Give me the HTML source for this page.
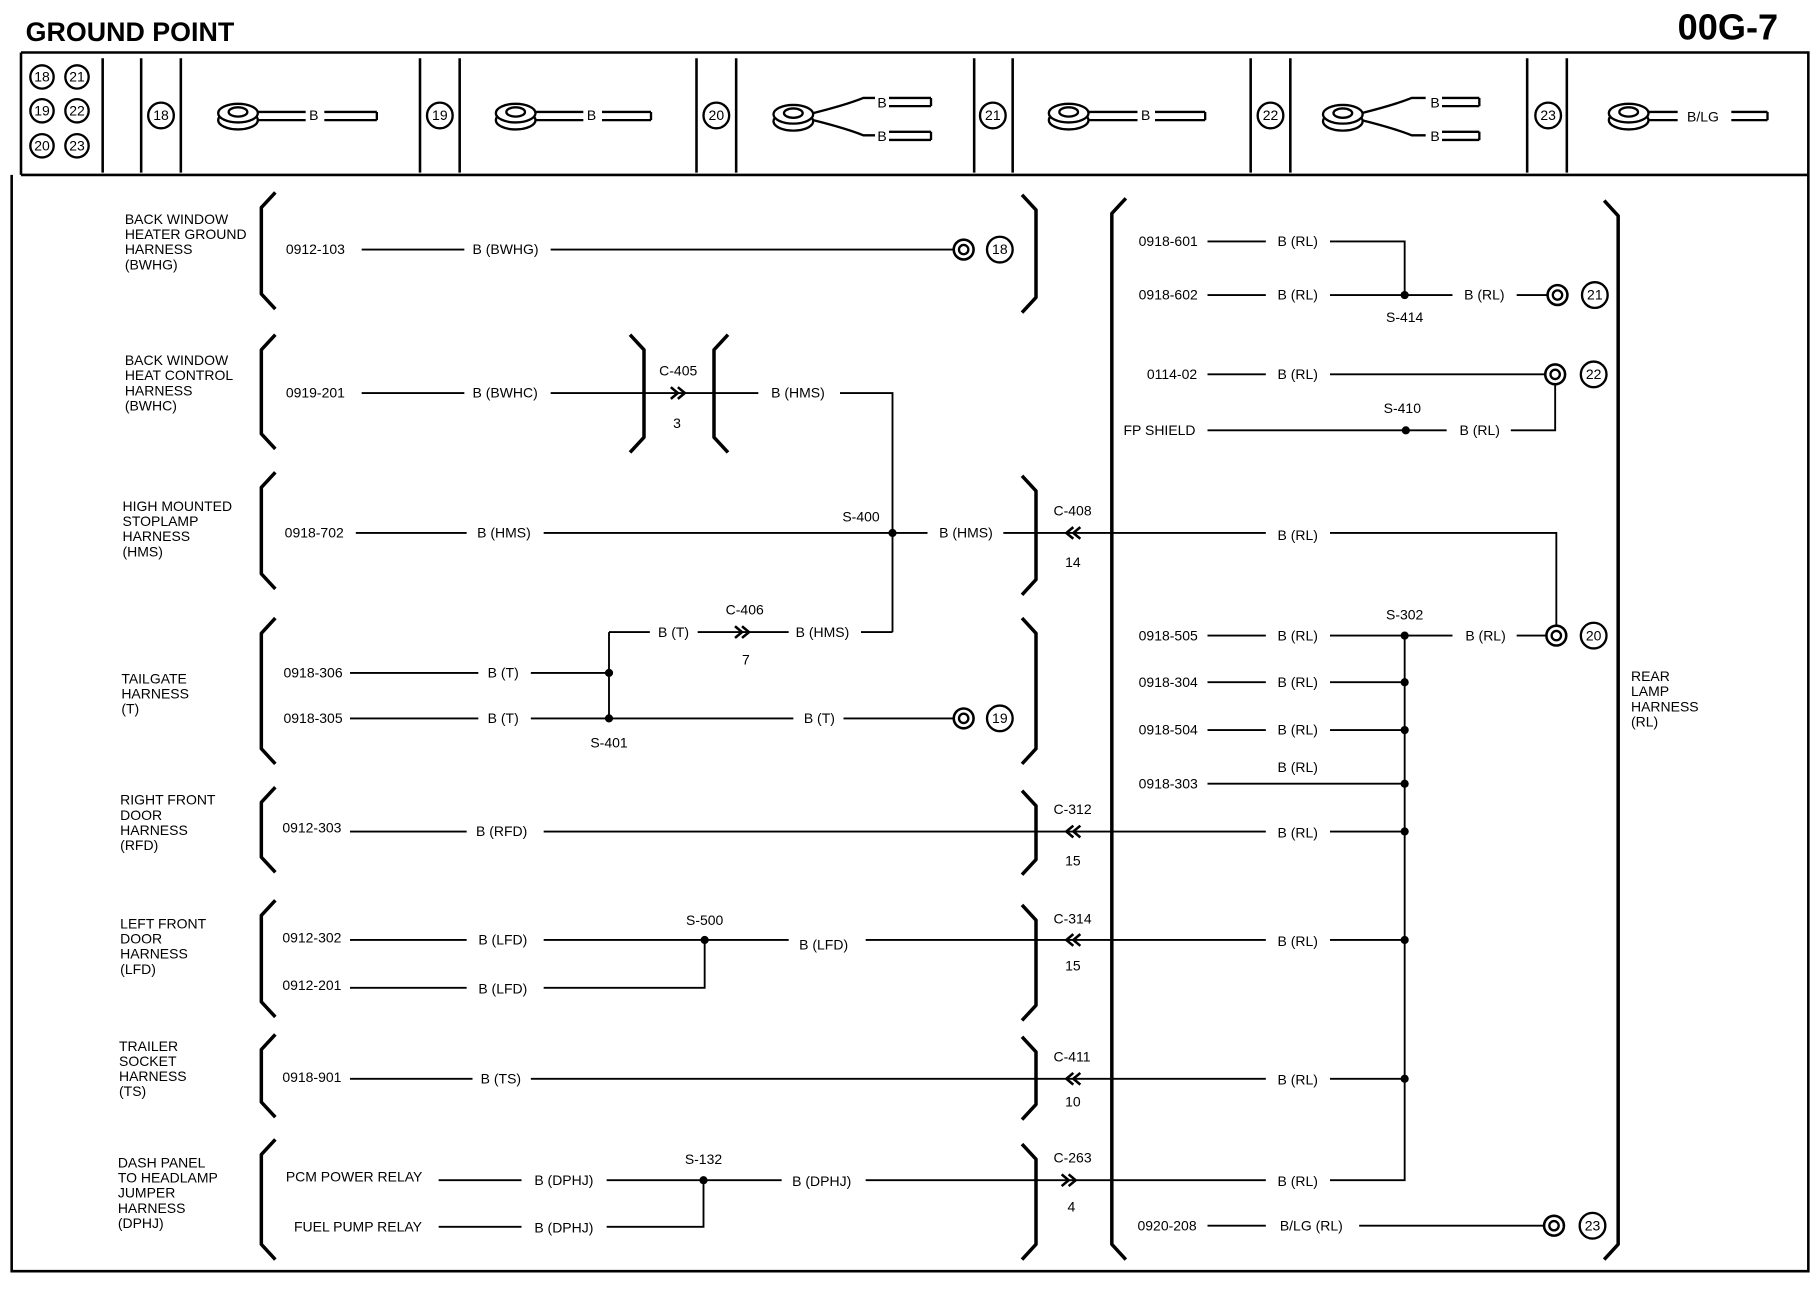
<!DOCTYPE html>
<html><head><meta charset="utf-8"><style>
html,body{margin:0;padding:0;background:#fff;}
svg{display:block;}
text{font-family:"Liberation Sans",sans-serif;font-size:12px;fill:#000;}
.t{font-size:12px;}
.w{stroke:#000;stroke-width:1.6;fill:none;}
.b{stroke:#000;stroke-width:3;fill:none;stroke-linejoin:round;}
.f{stroke:#000;stroke-width:2.2;fill:none;}
</style></head><body>
<svg width="1820" height="1312" viewBox="0 0 1560 1125" preserveAspectRatio="none" xmlns="http://www.w3.org/2000/svg">
<defs>
<g id="gnd"><circle r="8.5" fill="#fff" stroke="#000" stroke-width="2.2"/><circle r="4" fill="#fff" stroke="#000" stroke-width="2"/></g>
<g id="rt"><ellipse cx="0" cy="4" rx="17" ry="8" fill="#fff" stroke="#000" stroke-width="2"/><ellipse cx="0" cy="-2" rx="17" ry="8" fill="#fff" stroke="#000" stroke-width="2"/><ellipse cx="0" cy="-3" rx="8" ry="4" fill="#fff" stroke="#000" stroke-width="2"/></g>
</defs>
<text x="22" y="35" style="font-size:23px;font-weight:bold">GROUND POINT</text>
<text x="1438" y="34" style="font-size:31px;font-weight:bold">00G-7</text>
<!-- frame -->
<path class="f" d="M18,45 H1550 V1090 H10 V150 M18,45 V150 M18,150 H1550" stroke-width="3"/>
<g class="f">
<path d="M88,50 V148 M121,50 V148 M155,50 V148 M360,50 V148 M394,50 V148 M597,50 V148 M631,50 V148 M835,50 V148 M868,50 V148 M1072,50 V148 M1106,50 V148 M1309,50 V148 M1343,50 V148"/>
</g>
<g stroke="#000" stroke-width="2" fill="#fff">
<circle cx="36" cy="66" r="10"/><circle cx="66" cy="66" r="10"/>
<circle cx="36" cy="95" r="10"/><circle cx="66" cy="95" r="10"/>
<circle cx="36" cy="125" r="10"/><circle cx="66" cy="125" r="10"/>
<circle cx="138" cy="99" r="11"/><circle cx="377" cy="99" r="11"/><circle cx="614" cy="99" r="11"/>
<circle cx="851" cy="99" r="11"/><circle cx="1089" cy="99" r="11"/><circle cx="1327" cy="99" r="11"/>
</g>
<g text-anchor="middle" style="font-size:12px">
<text x="36" y="70">18</text><text x="66" y="70">21</text>
<text x="36" y="99">19</text><text x="66" y="99">22</text>
<text x="36" y="129">20</text><text x="66" y="129">23</text>
<text x="138" y="103">18</text><text x="377" y="103">19</text><text x="614" y="103">20</text>
<text x="851" y="103">21</text><text x="1089" y="103">22</text><text x="1327" y="103">23</text>
</g>
<!-- header terminals -->
<g stroke="#000" stroke-width="2" fill="none">
<path d="M220,96 H262 M220,103 H262 M278,96 H323 M278,103 H323 M323,96 V103"/>
<path d="M458,96 H500 M458,103 H500 M516,96 H558 M516,103 H558 M558,96 V103"/>
<path d="M697,97 Q725,90 740,84 H750 M697,103 Q725,110 740,116 H750 M762,84 H798 M762,91 H798 M798,84 V91 M762,113 H798 M762,120 H798 M798,113 V120"/>
<path d="M932,96 H975 M932,103 H975 M990,96 H1033 M990,103 H1033 M1033,96 V103"/>
<path d="M1167,97 Q1195,90 1210,84 H1222 M1167,103 Q1195,110 1210,116 H1222 M1236,84 H1268 M1236,91 H1268 M1268,84 V91 M1236,113 H1268 M1236,120 H1268 M1268,113 V120"/>
<path d="M1412,96 H1438 M1412,103 H1438 M1484,96 H1515 M1484,103 H1515 M1515,96 V103"/>
</g>
<use href="#rt" x="204" y="99"/><use href="#rt" x="442" y="99"/><use href="#rt" x="680" y="100"/>
<use href="#rt" x="916" y="99"/><use href="#rt" x="1151" y="100"/><use href="#rt" x="1396" y="99"/>
<g style="font-size:10px"><text x="265" y="103">B</text><text x="503" y="103">B</text><text x="752" y="92">B</text><text x="752" y="121">B</text><text x="978" y="103">B</text><text x="1226" y="92">B</text><text x="1226" y="121">B</text><text x="1446" y="104">B/LG</text></g>

<!-- brackets -->
<g class="b">
<path d="M236,165 L224,178 V252 L236,265"/>
<path d="M236,287 L224,300 V372 L236,385"/>
<path d="M236,405 L224,418 V492 L236,505"/>
<path d="M236,530 L224,543 V642 L236,655"/>
<path d="M236,675 L224,688 V735 L236,748"/>
<path d="M236,772 L224,785 V859 L236,872"/>
<path d="M236,887 L224,900 V945 L236,958"/>
<path d="M236,977 L224,990 V1067 L236,1080"/>
<path d="M876,167 L888,180 V255 L876,268"/>
<path d="M876,408 L888,421 V497 L876,510"/>
<path d="M876,530 L888,543 V642 L876,655"/>
<path d="M876,678 L888,691 V737 L876,750"/>
<path d="M876,776 L888,789 V862 L876,875"/>
<path d="M876,889 L888,902 V947 L876,960"/>
<path d="M876,981 L888,994 V1067 L876,1080"/>
<path d="M540,287 L552,300 V375 L540,388"/>
<path d="M624,287 L612,300 V375 L624,388"/>
<path d="M965,170 L953,183 V1067 L965,1080"/>
<path d="M1375,172 L1387,185 V1067 L1375,1080"/>
</g>

<!-- harness labels -->
<g class="t">
<text x="107" y="192">BACK WINDOW</text><text x="107" y="205">HEATER GROUND</text><text x="107" y="218">HARNESS</text><text x="107" y="231">(BWHG)</text>
<text x="107" y="313">BACK WINDOW</text><text x="107" y="326">HEAT CONTROL</text><text x="107" y="339">HARNESS</text><text x="107" y="352">(BWHC)</text>
<text x="105" y="438">HIGH MOUNTED</text><text x="105" y="451">STOPLAMP</text><text x="105" y="464">HARNESS</text><text x="105" y="477">(HMS)</text>
<text x="104" y="586">TAILGATE</text><text x="104" y="599">HARNESS</text><text x="104" y="612">(T)</text>
<text x="103" y="690">RIGHT FRONT</text><text x="103" y="703">DOOR</text><text x="103" y="716">HARNESS</text><text x="103" y="729">(RFD)</text>
<text x="103" y="796">LEFT FRONT</text><text x="103" y="809">DOOR</text><text x="103" y="822">HARNESS</text><text x="103" y="835">(LFD)</text>
<text x="102" y="901">TRAILER</text><text x="102" y="914">SOCKET</text><text x="102" y="927">HARNESS</text><text x="102" y="940">(TS)</text>
<text x="101" y="1001">DASH PANEL</text><text x="101" y="1014">TO HEADLAMP</text><text x="101" y="1027">JUMPER</text><text x="101" y="1040">HARNESS</text><text x="101" y="1053">(DPHJ)</text>
<text x="1398" y="584">REAR</text><text x="1398" y="597">LAMP</text><text x="1398" y="610">HARNESS</text><text x="1398" y="623">(RL)</text>
</g>

<!-- wires -->
<g class="w">
<path d="M310,214 H398 M472,214 H818"/>
<path d="M310,337 H398 M472,337 H650 M720,337 H765 V542 M738,542 H765"/>
<path d="M305,457 H400 M466,457 H795 M860,457 H1085 M1140,457 H1334 V536"/>
<path d="M522,542 H557 M598,542 H676 M522,542 V616"/>
<path d="M300,577 H410 M455,577 H522 M300,616 H410 M455,616 H680 M723,616 H818"/>
<path d="M300,713 H400 M466,713 H1085 M1140,713 H1204"/>
<path d="M300,806 H400 M466,806 H676 M742,806 H1085 M1140,806 H1204 M300,847 H400 M466,847 H604 V806"/>
<path d="M300,925 H405 M455,925 H1085 M1140,925 H1204"/>
<path d="M376,1012 H447 M520,1012 H670 M742,1012 H1085 M1140,1012 H1204 V545 M376,1052 H447 M520,1052 H603 V1012"/>
<path d="M1035,1051 H1085 M1165,1051 H1324"/>
<path d="M1035,207 H1085 M1140,207 H1204 V253 M1035,253 H1085 M1140,253 H1245 M1300,253 H1326"/>
<path d="M1035,321 H1085 M1140,321 H1324 M1035,369 H1240 M1295,369 H1333 V330"/>
<path d="M1035,545 H1085 M1140,545 H1245 M1300,545 H1325"/>
<path d="M1035,585 H1085 M1140,585 H1204 M1035,626 H1085 M1140,626 H1204 M1035,672 H1204"/>
</g>
<!-- splice dots -->
<g fill="#000">
<circle cx="765" cy="457" r="3.5"/><circle cx="522" cy="577" r="3.5"/><circle cx="522" cy="616" r="3.5"/>
<circle cx="604" cy="806" r="3.5"/><circle cx="603" cy="1012" r="3.5"/>
<circle cx="1204" cy="253" r="3.5"/><circle cx="1205" cy="369" r="3.5"/><circle cx="1204" cy="545" r="3.5"/>
<circle cx="1204" cy="585" r="3.5"/><circle cx="1204" cy="626" r="3.5"/><circle cx="1204" cy="672" r="3.5"/>
<circle cx="1204" cy="713" r="3.5"/><circle cx="1204" cy="806" r="3.5"/><circle cx="1204" cy="925" r="3.5"/>
</g>
<!-- connector arrows -->
<g stroke="#000" stroke-width="2.2" fill="none">
<path d="M575,332 L581,337 L575,342 M581,332 L587,337 L581,342"/>
<path d="M630,537 L636,542 L630,547 M636,537 L642,542 L636,547"/>
<path d="M920,452 L914,457 L920,462 M926,452 L920,457 L926,462"/>
<path d="M920,708 L914,713 L920,718 M926,708 L920,713 L926,718"/>
<path d="M920,801 L914,806 L920,811 M926,801 L920,806 L926,811"/>
<path d="M920,920 L914,925 L920,930 M926,920 L920,925 L926,930"/>
<path d="M910,1007 L916,1012 L910,1017 M916,1007 L922,1012 L916,1017"/>
</g>
<!-- grounds -->
<use href="#gnd" x="826" y="214"/><use href="#gnd" x="826" y="616"/>
<use href="#gnd" x="1335" y="253"/><use href="#gnd" x="1333" y="321"/><use href="#gnd" x="1334" y="545"/><use href="#gnd" x="1332" y="1051"/>
<g stroke="#000" stroke-width="2" fill="#fff">
<circle cx="857" cy="214" r="11"/><circle cx="857" cy="616" r="11"/><circle cx="1367" cy="253" r="11"/>
<circle cx="1366" cy="321" r="11"/><circle cx="1366" cy="545" r="11"/><circle cx="1365" cy="1051" r="11"/>
</g>
<g text-anchor="middle">
<text x="857" y="218">18</text><text x="857" y="620">19</text><text x="1367" y="257">21</text>
<text x="1366" y="325">22</text><text x="1366" y="549">20</text><text x="1365" y="1055">23</text>
</g>
<!-- wire labels -->
<g class="t">
<text x="245" y="218">0912-103</text><text x="405" y="218">B (BWHG)</text>
<text x="245" y="341">0919-201</text><text x="405" y="341">B (BWHC)</text><text x="565" y="322">C-405</text><text x="577" y="367">3</text><text x="661" y="341">B (HMS)</text>
<text x="244" y="461">0918-702</text><text x="409" y="461">B (HMS)</text><text x="722" y="447">S-400</text><text x="805" y="461">B (HMS)</text>
<text x="903" y="442">C-408</text><text x="913" y="486">14</text><text x="1095" y="463">B (RL)</text>
<text x="564" y="546">B (T)</text><text x="622" y="527">C-406</text><text x="636" y="570">7</text><text x="682" y="546">B (HMS)</text>
<text x="243" y="581">0918-306</text><text x="418" y="581">B (T)</text>
<text x="243" y="620">0918-305</text><text x="418" y="620">B (T)</text><text x="689" y="620">B (T)</text><text x="506" y="641">S-401</text>
<text x="242" y="714">0912-303</text><text x="408" y="717">B (RFD)</text><text x="903" y="698">C-312</text><text x="913" y="742">15</text><text x="1095" y="718">B (RL)</text>
<text x="242" y="808">0912-302</text><text x="410" y="810">B (LFD)</text><text x="588" y="793">S-500</text><text x="685" y="814">B (LFD)</text>
<text x="903" y="792">C-314</text><text x="913" y="832">15</text><text x="1095" y="811">B (RL)</text>
<text x="242" y="849">0912-201</text><text x="410" y="852">B (LFD)</text>
<text x="242" y="928">0918-901</text><text x="412" y="929">B (TS)</text><text x="903" y="910">C-411</text><text x="913" y="949">10</text><text x="1095" y="930">B (RL)</text>
<text x="245" y="1013">PCM POWER RELAY</text><text x="458" y="1016">B (DPHJ)</text><text x="587" y="998">S-132</text><text x="679" y="1017">B (DPHJ)</text>
<text x="903" y="997">C-263</text><text x="915" y="1039">4</text><text x="1095" y="1017">B (RL)</text>
<text x="252" y="1056">FUEL PUMP RELAY</text><text x="458" y="1057">B (DPHJ)</text>
<text x="975" y="1055">0920-208</text><text x="1097" y="1055">B/LG (RL)</text>
<text x="976" y="211">0918-601</text><text x="1095" y="211">B (RL)</text>
<text x="976" y="257">0918-602</text><text x="1095" y="257">B (RL)</text><text x="1188" y="276">S-414</text><text x="1255" y="257">B (RL)</text>
<text x="983" y="325">0114-02</text><text x="1095" y="325">B (RL)</text>
<text x="963" y="373">FP SHIELD</text><text x="1186" y="354">S-410</text><text x="1251" y="373">B (RL)</text>
<text x="976" y="549">0918-505</text><text x="1095" y="549">B (RL)</text><text x="1188" y="531">S-302</text><text x="1256" y="549">B (RL)</text>
<text x="976" y="589">0918-304</text><text x="1095" y="589">B (RL)</text>
<text x="976" y="630">0918-504</text><text x="1095" y="630">B (RL)</text>
<text x="976" y="676">0918-303</text><text x="1095" y="662">B (RL)</text>
</g>
</svg>
</body></html>
